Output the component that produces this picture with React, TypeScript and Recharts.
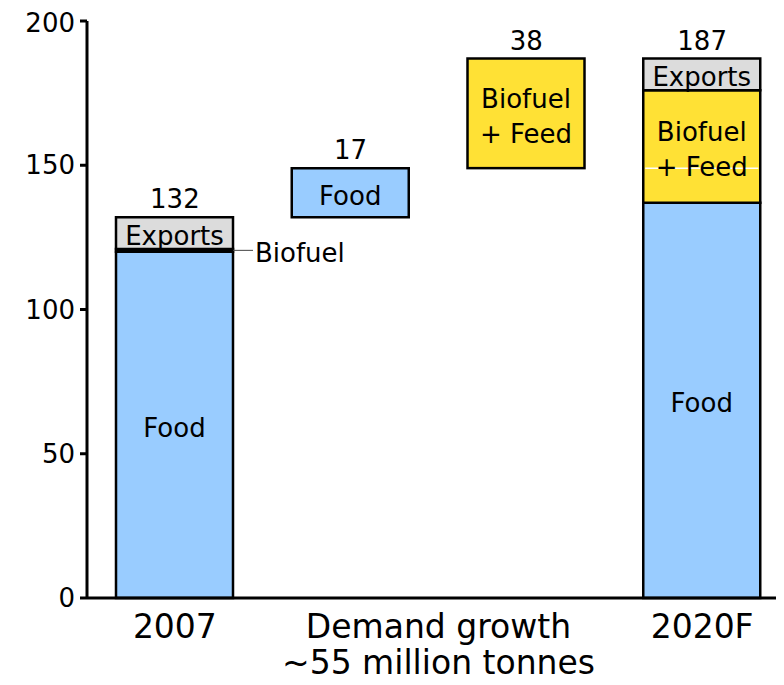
import React from 'react';
import { BarChart, Bar, XAxis, YAxis, LabelList, ReferenceDot } from 'recharts';

// ---- data ----
const categories = ['2007', 'growthFood', 'growthBiofuel', '2020F'];
const tickLabels = ['2007', 'Demand growth|~55 million tonnes', '', '2020F'];
const baseValues = [0, 132, 149, 0];
const foodValues = [120, 17, 0, 137];
const biofuelValues = [1, 0, 0, 0];
const biofuelFeedValues = [0, 0, 38, 39];
const exportsValues = [11, 0, 0, 11];
const foodNames = ['Food', 'Food', '', 'Food'];
const biofuelNotes = ['Biofuel', '', '', ''];
const biofuelFeedNames = ['', '', 'Biofuel|+ Feed', 'Biofuel|+ Feed'];
const exportsNames = ['Exports', '', '', 'Exports'];
const totalTops = [132, 149, 187, 187];
const totalLabels = ['132', '17', '38', '187'];
const whiteMarks = [null, null, null, 149];
const yTicks = [0, 50, 100, 150, 200];

const data = categories.map((c, i) => ({
  name: c,
  base: baseValues[i],
  food: foodValues[i],
  biofuel: biofuelValues[i],
  biofuelFeed: biofuelFeedValues[i],
  exports: exportsValues[i],
  foodName: foodNames[i],
  biofuelNote: biofuelNotes[i],
  biofuelFeedName: biofuelFeedNames[i],
  exportsName: exportsNames[i],
  mark: whiteMarks[i],
}));

// ---- layout ----
const W = 776;
const H = 669;
const Y_AXIS_W = 79;
const PAD_RIGHT = -6;
const BAND = (W - Y_AXIS_W - PAD_RIGHT) / categories.length;
const FONT = 'DejaVu Sans';

const FOOD = '#99CCFF';
const YELLOW = '#FFE135';
const GREY = '#DCDCDC';

const CenterLabel = (props: any) => {
  const { x, y, width, height, value } = props;
  if (!value) return null;
  const lines = String(value).split('|');
  const cx = x + width / 2;
  const cy = y + height / 2 + 3;
  const lh = 35;
  const start = cy - ((lines.length - 1) * lh) / 2;
  return (
    <g>
      {lines.map((l, i) => (
        <text key={i} x={cx} y={start + i * lh} textAnchor="middle" dominantBaseline="central" fontSize={26} fill="#000" fontFamily={FONT}>
          {l}
        </text>
      ))}
    </g>
  );
};

const NoteLabel = (props: any) => {
  const { x, y, width, height, value } = props;
  if (!value) return null;
  const right = x + width;
  const cy = y + height / 2;
  return (
    <g>
      <line x1={right} y1={cy} x2={right + 20} y2={cy} stroke="#444" strokeWidth={1} />
      <text x={right + 22} y={cy + 3} dominantBaseline="central" fontSize={26} fill="#000" fontFamily={FONT}>
        {value}
      </text>
    </g>
  );
};

const FeedShape = (props: any) => {
  const { x, y, width, height, payload, fill } = props;
  if (!height || height <= 0) return null;
  const top = payload.base + payload.food + payload.biofuel + payload.biofuelFeed;
  const perUnit = height / payload.biofuelFeed;
  const markY = payload.mark != null ? y + (top - payload.mark) * perUnit : null;
  return (
    <g>
      <rect x={x} y={y} width={width} height={height} fill={fill} stroke="#000" strokeWidth={2.5} />
      {markY != null && <line x1={x + 2} x2={x + width - 2} y1={markY} y2={markY} stroke="#fff" strokeWidth={1.5} />}
    </g>
  );
};

const XTick = (props: any) => {
  const { x, y, payload } = props;
  const idx = categories.indexOf(payload.value);
  const label = tickLabels[idx];
  if (!label) return null;
  const lines = label.split('|');
  const cx = idx === 1 ? x + BAND / 2 : x;
  return (
    <g>
      {lines.map((l, i) => (
        <text key={i} x={cx} y={y + 32 + i * 36} textAnchor="middle" fontSize={33} fill="#000" fontFamily={FONT}>
          {l}
        </text>
      ))}
    </g>
  );
};

export default function App() {
  return (
    <div style={{ width: W, height: H, fontFamily: FONT }}>
      <style>{`.recharts-surface { overflow: visible; } .recharts-wrapper { overflow: visible; }`}</style>
      <BarChart width={W} height={H} data={data} margin={{ top: 13, right: 0, bottom: 0, left: 0 }} barSize={117}>
        <XAxis
          dataKey="name"
          axisLine={{ stroke: '#000', strokeWidth: 3 }}
          tickLine={false}
          height={79}
          interval={0}
          padding={{ left: 0, right: PAD_RIGHT }}
          tick={<XTick />}
        />
        <YAxis
          domain={[0, 200]}
          ticks={yTicks}
          width={Y_AXIS_W}
          axisLine={{ stroke: '#000', strokeWidth: 3 }}
          tickLine={{ stroke: '#000', strokeWidth: 3 }}
          tickSize={7}
          tickMargin={5}
          tick={{ fontSize: 26, fill: '#000', fontFamily: FONT }}
        />
        <Bar dataKey="base" stackId="a" fill="none" stroke="none" isAnimationActive={false} />
        <Bar dataKey="food" stackId="a" fill={FOOD} stroke="#000" strokeWidth={2.5} isAnimationActive={false}>
          <LabelList dataKey="foodName" content={<CenterLabel />} />
        </Bar>
        <Bar dataKey="biofuel" stackId="a" fill="#000" stroke="#000" strokeWidth={2.5} isAnimationActive={false}>
          <LabelList dataKey="biofuelNote" content={<NoteLabel />} />
        </Bar>
        <Bar dataKey="biofuelFeed" stackId="a" fill={YELLOW} shape={<FeedShape />} isAnimationActive={false}>
          <LabelList dataKey="biofuelFeedName" content={<CenterLabel />} />
        </Bar>
        <Bar dataKey="exports" stackId="a" fill={GREY} stroke="#000" strokeWidth={2.5} isAnimationActive={false}>
          <LabelList dataKey="exportsName" content={<CenterLabel />} />
        </Bar>
        {categories.map((c, i) => (
          <ReferenceDot
            key={c}
            x={c}
            y={totalTops[i]}
            r={0}
            fill="none"
            stroke="none"
            label={{ value: totalLabels[i], position: 'top', offset: 9, fontSize: 26, fill: '#000', fontFamily: FONT }}
          />
        ))}
      </BarChart>
    </div>
  );
}
